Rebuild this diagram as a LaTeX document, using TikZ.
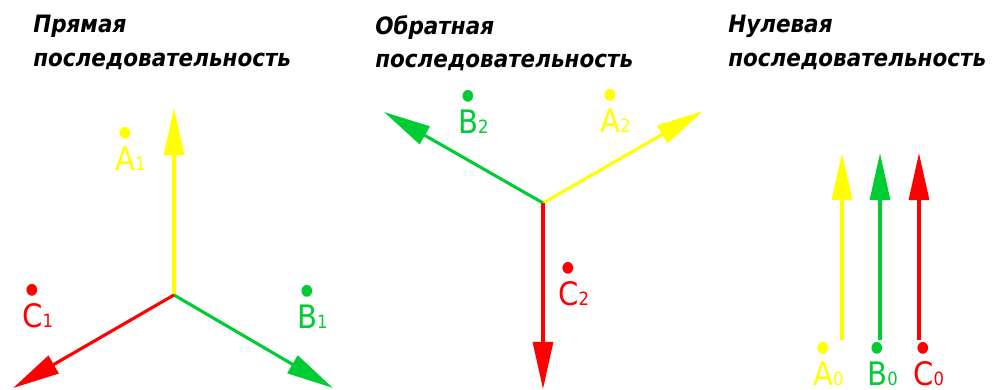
\documentclass[tikz,border=0pt]{standalone}
\usepackage{fontspec}
\usepackage{tikz}
\usetikzlibrary{arrows.meta}
\newfontfamily\headfont{DejaVu Sans Condensed}
\newfontfamily\labfont{DejaVu Sans Condensed}
\definecolor{phasea}{RGB}{255,255,0}
\definecolor{phaseb}{RGB}{0,204,51}
\definecolor{phasec}{RGB}{255,0,0}
\newcommand{\phasor}[2]{\ooalign{#1\cr\hidewidth\raisebox{15pt}{\fontsize{29}{29}\selectfont\textbullet}\hidewidth\cr}{\fontsize{13}{13}\selectfont #2}}

\begin{document}
\begin{tikzpicture}[x=0.025cm,y=-0.025cm,
  vec/.style={line width=2.2pt,-{Triangle[length=1.175cm,width=0.5cm]}},
  head/.style={font=\headfont\bfseries\itshape\fontsize{17}{24}\selectfont,anchor=north west,align=left,inner sep=0pt},
  lbl/.style={font=\labfont\fontsize{23}{23}\selectfont,anchor=base west,inner sep=0pt}]
\useasboundingbox (0,0) rectangle (992,389);

% headings
\node[head] (h1) at (33,15) {Прямая\\последовательность};
\node[head] (h2) at (375,15) {Обратная\\последовательность};
\node[head] (h3) at (728,15) {Нулевая\\последовательность};

% direct sequence
\coordinate (o1) at (174,295);
\coordinate (a1) at (174,108);
\coordinate (b1) at (333,388);
\coordinate (c1) at (13,388);
\draw[vec,phasea] (o1) -- (a1);
\draw[vec,phaseb] (o1) -- (b1);
\draw[vec,phasec] (o1) -- (c1);
\node[lbl,text=phasea] (la1) at (115,170) {\phasor{A}{1}};
\node[lbl,text=phaseb] (lb1) at (297,328) {\phasor{B}{1}};
\node[lbl,text=phasec] (lc1) at (22,327) {\phasor{C}{1}};

% negative sequence
\coordinate (o2) at (543,203);
\coordinate (a2) at (703,111);
\coordinate (b2) at (384,112);
\coordinate (c2) at (543,389);
\draw[vec,phasea] (o2) -- (a2);
\draw[vec,phaseb] (o2) -- (b2);
\draw[vec,phasec] (o2) -- (c2);
\node[lbl,text=phasea] (la2) at (600,132) {\phasor{A}{2}};
\node[lbl,text=phaseb] (lb2) at (458,133) {\phasor{B}{2}};
\node[lbl,text=phasec] (lc2) at (558,305) {\phasor{C}{2}};

% zero sequence
\coordinate (a0s) at (842,340);
\coordinate (a0) at (842,153);
\coordinate (b0s) at (880,340);
\coordinate (b0) at (880,153);
\coordinate (c0s) at (919,340);
\coordinate (c0) at (919,153);
\draw[vec,phasea] (a0s) -- (a0);
\draw[vec,phaseb] (b0s) -- (b0);
\draw[vec,phasec] (c0s) -- (c0);
\node[lbl,text=phasea] (la0) at (813,385) {\phasor{A}{0}};
\node[lbl,text=phaseb] (lb0) at (867,385) {\phasor{B}{0}};
\node[lbl,text=phasec] (lc0) at (913,385) {\phasor{C}{0}};
\end{tikzpicture}
\end{document}
